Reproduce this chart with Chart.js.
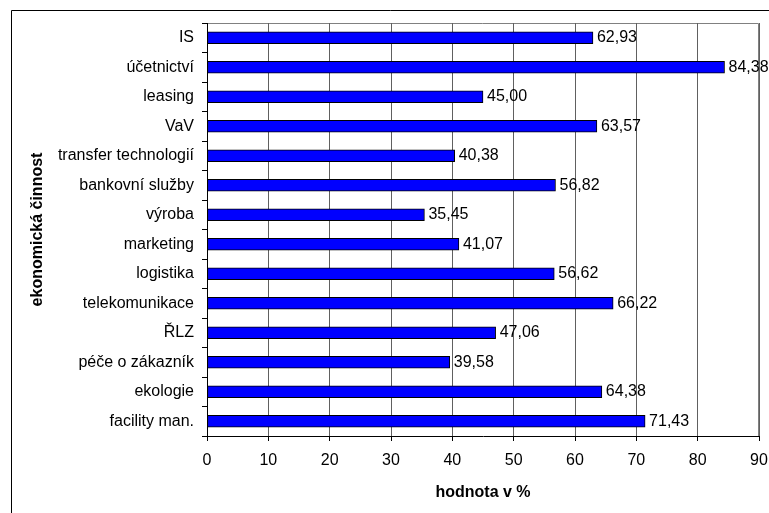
<!DOCTYPE html>
<html>
<head>
<meta charset="utf-8">
<script src="https://cdn.jsdelivr.net/npm/chart.js@4"></script>
<style>
  html, body { margin: 0; padding: 0; background: #fff; }
  #wrap { width: 769px; height: 513px; position: relative; }
</style>
</head>
<body>
<div id="wrap"><canvas id="barChart" width="769" height="513"></canvas></div>
<script>
const categories = [
    'IS', 'účetnictví', 'leasing', 'VaV', 'transfer technologií', 'bankovní služby',
    'výroba', 'marketing', 'logistika', 'telekomunikace', 'ŘLZ', 'péče o zákazník',
    'ekologie', 'facility man.'
];
const values = [62.93, 84.38, 45.00, 63.57, 40.38, 56.82, 35.45, 41.07, 56.62, 66.22, 47.06, 39.58, 64.38, 71.43];
const xTicks = [0, 10, 20, 30, 40, 50, 60, 70, 80, 90];

const font = { family: '"Liberation Sans", Arial, sans-serif', size: 16 };

// outer frame + plot border
const framePlugin = {
    id: 'frame',
    beforeDraw(chart) {
        const { ctx, chartArea } = chart;
        ctx.save();
        ctx.strokeStyle = '#000';
        ctx.lineWidth = 1;
        ctx.beginPath();
        ctx.moveTo(11.5, 513);
        ctx.lineTo(11.5, 10.5);
        ctx.lineTo(769, 10.5);
        ctx.stroke();
        ctx.strokeStyle = '#808080';
        ctx.beginPath();
        ctx.moveTo(chartArea.left, chartArea.top + 0.5);
        ctx.lineTo(chartArea.right - 0.5, chartArea.top + 0.5);
        ctx.lineTo(chartArea.right - 0.5, chartArea.bottom);
        ctx.stroke();
        ctx.restore();
    },
};

// value labels after each bar
const valueLabels = {
    id: 'valueLabels',
    afterDatasetsDraw(chart) {
        const { ctx } = chart;
        const meta = chart.getDatasetMeta(0);
        ctx.save();
        ctx.font = `${font.size}px ${font.family}`;
        ctx.fillStyle = '#000';
        ctx.textAlign = 'left';
        ctx.textBaseline = 'middle';
        meta.data.forEach((bar, i) => {
            const txt = values[i].toFixed(2).replace('.', ',');
            ctx.fillText(txt, bar.x + 4, bar.y);
        });
        ctx.restore();
    },
};

new Chart(document.getElementById('barChart'), {
    type: 'bar',
    data: {
        labels: categories,
        datasets: [{
            data: values,
            backgroundColor: '#0000FF',
            borderColor: '#000',
            borderWidth: 1,
            borderSkipped: false,
            barThickness: 12,
        }],
    },
    options: {
        indexAxis: 'y',
        responsive: false,
        animation: false,
        layout: { padding: { top: 23, right: 10, left: 0, bottom: 0 } },
        plugins: {
            legend: { display: false },
            tooltip: { enabled: false },
        },
        scales: {
            x: {
                min: 0,
                max: 90,
                afterBuildTicks(axis) {
                    axis.ticks = xTicks.map((v) => ({ value: v }));
                },
                afterFit(axis) {
                    axis.height = 77;
                    axis.paddingLeft = 0;
                    axis.paddingRight = 0;
                },
                ticks: { color: '#000', font, padding: 10, maxRotation: 0 },
                grid: { color: '#606060', tickColor: '#000', tickLength: 5, lineWidth: 1 },
                border: { color: '#000', width: 1 },
                title: {
                    display: true,
                    text: 'hodnota v %',
                    color: '#000',
                    font: { ...font, weight: 'bold' },
                    padding: { top: 4, bottom: 11 },
                },
            },
            y: {
                afterFit(axis) {
                    axis.width = 207;
                    axis.paddingTop = 0;
                    axis.paddingBottom = 0;
                },
                ticks: { color: '#000', font, padding: 8 },
                grid: { drawOnChartArea: false, color: '#000', tickLength: 5, offset: true },
                border: { color: '#000', width: 1 },
                title: {
                    display: true,
                    text: 'ekonomická činnost',
                    color: '#000',
                    font: { ...font, weight: 'bold' },
                    padding: { top: 28, bottom: 0 },
                },
            },
        },
    },
    plugins: [framePlugin, valueLabels],
});
</script>
</body>
</html>
